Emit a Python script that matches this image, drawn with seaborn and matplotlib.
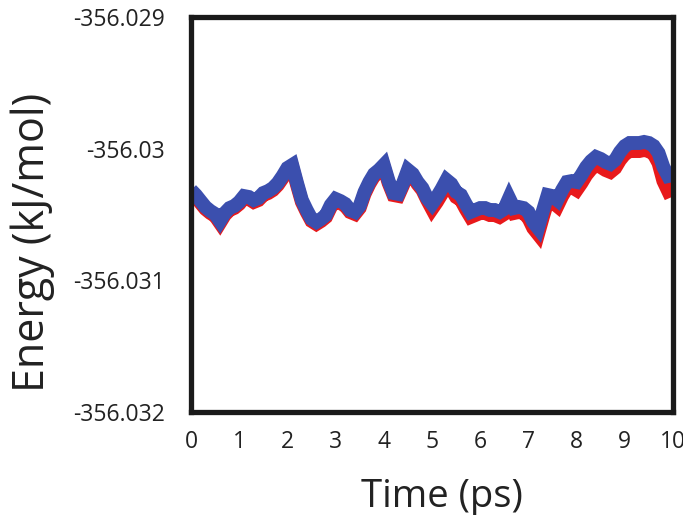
import matplotlib
matplotlib.use("Agg")
import matplotlib.pyplot as plt
import seaborn as sns
import pandas as pd

# ---- data ----
time_ps = [round(i * 0.1, 1) for i in range(101)]

energy_blue = [
    -356.030314, -356.030352, -356.030398, -356.030443, -356.030473, -356.030496,
    -356.030549, -356.030489, -356.030451, -356.030435, -356.030405, -356.030360,
    -356.030367, -356.030390, -356.030375, -356.030337, -356.030322, -356.030299,
    -356.030261, -356.030208, -356.030147, -356.030124, -356.030261, -356.030390,
    -356.030466, -356.030534, -356.030557, -356.030534, -356.030504, -356.030428,
    -356.030382, -356.030398, -356.030420, -356.030466, -356.030481, -356.030435,
    -356.030329, -356.030253, -356.030192, -356.030162, -356.030124, -356.030246,
    -356.030337, -356.030344, -356.030261, -356.030162, -356.030192, -356.030253,
    -356.030299, -356.030375, -356.030420, -356.030367, -356.030306, -356.030238,
    -356.030268, -356.030329, -356.030352, -356.030420, -356.030481, -356.030466,
    -356.030451, -356.030451, -356.030466, -356.030466, -356.030481, -356.030458,
    -356.030375, -356.030451, -356.030443, -356.030451, -356.030481, -356.030557,
    -356.030603, -356.030473, -356.030352, -356.030360, -356.030390, -356.030314,
    -356.030253, -356.030246, -356.030253, -356.030200, -356.030139, -356.030094,
    -356.030063, -356.030078, -356.030101, -356.030116, -356.030086, -356.030025,
    -356.029980, -356.029957, -356.029957, -356.029957, -356.029949, -356.029957,
    -356.029980, -356.030033, -356.030139, -356.030208, -356.030200,
]

energy_red = [
    -356.030329, -356.030367, -356.030413, -356.030458, -356.030488, -356.030511,
    -356.030564, -356.030504, -356.030466, -356.030450, -356.030420, -356.030375,
    -356.030382, -356.030405, -356.030390, -356.030352, -356.030337, -356.030314,
    -356.030276, -356.030223, -356.030162, -356.030139, -356.030276, -356.030405,
    -356.030481, -356.030549, -356.030572, -356.030549, -356.030519, -356.030443,
    -356.030397, -356.030413, -356.030435, -356.030481, -356.030496, -356.030450,
    -356.030344, -356.030268, -356.030207, -356.030177, -356.030139, -356.030261,
    -356.030352, -356.030359, -356.030276, -356.030177, -356.030207, -356.030268,
    -356.030314, -356.030390, -356.030458, -356.030405, -356.030344, -356.030276,
    -356.030306, -356.030367, -356.030390, -356.030458, -356.030519, -356.030504,
    -356.030489, -356.030489, -356.030504, -356.030504, -356.030519, -356.030496,
    -356.030413, -356.030489, -356.030481, -356.030489, -356.030527, -356.030603,
    -356.030649, -356.030519, -356.030398, -356.030406, -356.030436, -356.030360,
    -356.030299, -356.030292, -356.030314, -356.030261, -356.030200, -356.030155,
    -356.030124, -356.030139, -356.030162, -356.030177, -356.030147, -356.030086,
    -356.030041, -356.030018, -356.030018, -356.030018, -356.030010, -356.030018,
    -356.030041, -356.030109, -356.030245, -356.030322, -356.030306,
]

x_ticks = [0, 1, 2, 3, 4, 5, 6, 7, 8, 9, 10]
y_ticks = [-356.032, -356.031, -356.030, -356.029]
y_tick_labels = ["-356.032", "-356.031", "-356.03", "-356.029"]

# ---- styling ----
sns.set_style("white")
plt.rcParams["font.family"] = ["Open Sans", "DejaVu Sans"]

fig = plt.figure(figsize=(6.83, 5.15), dpi=100)
ax = fig.add_axes([191 / 683, 1 - 412 / 515, (673 - 191) / 683, (412 - 17) / 515])

df_red = pd.DataFrame({"t": time_ps, "E": energy_red})
df_blue = pd.DataFrame({"t": time_ps, "E": energy_blue})

sns.lineplot(data=df_red, x="t", y="E", ax=ax, color="#e8191b", lw=10,
             solid_joinstyle="miter", solid_capstyle="butt")
sns.lineplot(data=df_blue, x="t", y="E", ax=ax, color="#3b4fae", lw=10,
             solid_joinstyle="miter", solid_capstyle="butt")

ax.set_xlim(0, 10)
ax.set_ylim(-356.032, -356.029)
ax.set_xticks(x_ticks)
ax.set_xticklabels([str(v) for v in x_ticks])
ax.set_yticks(y_ticks)
ax.set_yticklabels(y_tick_labels)

ax.tick_params(axis="both", direction="in", length=4, width=1, color="#222222",
               labelsize=16.5, labelcolor="#222222")
ax.tick_params(axis="x", pad=13)
ax.tick_params(axis="y", pad=19)

for s in ax.spines.values():
    s.set_visible(True)
    s.set_linewidth(3.8)
    s.set_color("#1a1a1a")

ax.set_xlabel("Time (ps)", fontsize=27.5, color="#222222")
ax.set_ylabel("Energy (kJ/mol)", fontsize=31, color="#222222")
ax.xaxis.set_label_coords(0.52, -0.167)
ax.yaxis.set_label_coords(-0.282, 0.43)

fig.savefig("out.png", dpi=100)
